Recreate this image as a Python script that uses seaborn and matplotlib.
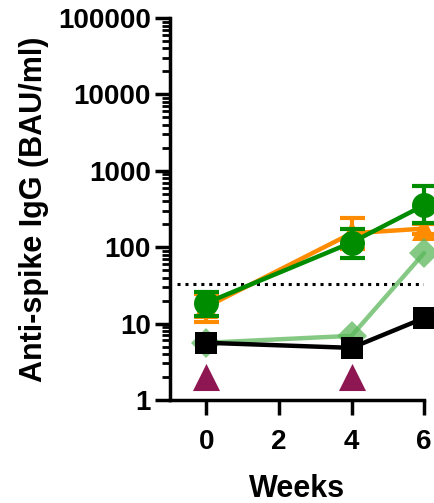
import matplotlib
matplotlib.use("Agg")
from matplotlib import pyplot as plt
import seaborn as sns

weeks = [0, 4, 6]
orange_mean = [16.5, 152, 175]
orange_low = [10.5, 95, 150]
orange_high = [24, 240, 200]
green_mean = [18.6, 115, 355]
green_low = [12.6, 72, 208]
green_high = [26, 173, 640]
light_mean = [5.6, 6.9, 84]
black_mean = [5.6, 4.8, 11.8]
arrow_weeks = [0, 4]
arrow_vals = [2.0, 2.0]
threshold = 33

sns.set_style("ticks")
plt.rcParams["font.family"] = ["Liberation Sans", "DejaVu Sans"]
plt.rcParams["font.weight"] = "bold"
for k in ["text.color", "axes.labelcolor", "xtick.color", "ytick.color", "axes.edgecolor"]:
    plt.rcParams[k] = "black"

fig = plt.figure(figsize=(4.35, 5.03), dpi=100)
ax = fig.add_axes([0.391, 0.205, 0.584, 0.759])

# threshold
ax.plot([-0.8, 6.0], [threshold, threshold], color="black", linestyle=(0, (1, 1.6)), linewidth=2.2, zorder=1)

def err(mean, low, high):
    return [[m - l for m, l in zip(mean, low)], [h - m for m, h in zip(mean, high)]]

# orange series
ax.errorbar(weeks, orange_mean, yerr=err(orange_mean, orange_low, orange_high), fmt="none",
            ecolor="#ff8c00", elinewidth=3, capsize=9, capthick=3, clip_on=False, zorder=2)
sns.lineplot(x=weeks, y=orange_mean, color="#ff8c00", marker="^", markersize=17, linewidth=3.2,
             markeredgewidth=0, ax=ax, clip_on=False, zorder=2)

# green series
ax.errorbar(weeks, green_mean, yerr=err(green_mean, green_low, green_high), fmt="none",
            ecolor="#008c00", elinewidth=3, capsize=9, capthick=3, clip_on=False, zorder=3)
sns.lineplot(x=weeks, y=green_mean, color="#008c00", marker="o", markersize=18, linewidth=3.2,
             markeredgewidth=0, ax=ax, clip_on=False, zorder=3)

# light green series
sns.lineplot(x=weeks, y=light_mean, color="#5cb85c", alpha=0.75, marker="D", markersize=15, linewidth=3.2,
             markeredgewidth=0, ax=ax, clip_on=False, zorder=4)

# black series
sns.lineplot(x=weeks, y=black_mean, color="black", marker="s", markersize=16, linewidth=3.2,
             markeredgewidth=0, ax=ax, clip_on=False, zorder=5)

# arrows
sns.scatterplot(x=arrow_weeks, y=arrow_vals, color="#8e1652", marker="^", s=380, linewidth=0,
                ax=ax, clip_on=False, zorder=6)

ax.set_yscale("log")
ax.set_ylim(1, 100000)
ax.set_xlim(-1, 6)
ax.set_xticks([0, 2, 4, 6])
ax.set_yticks([1, 10, 100, 1000, 10000, 100000])
ax.set_yticklabels(["1", "10", "100", "1000", "10000", "100000"])
ax.tick_params(axis="both", which="major", length=11, width=2.5, labelsize=20, pad=3, direction="out")
ax.tick_params(axis="y", which="minor", length=6, width=2, direction="out")
ax.tick_params(axis="x", pad=10)
for lab in ax.get_xticklabels() + ax.get_yticklabels():
    lab.set_fontweight("bold")
ax.spines["top"].set_visible(False)
ax.spines["right"].set_visible(False)
ax.spines["left"].set_linewidth(2.5)
ax.spines["bottom"].set_linewidth(2.5)
ax.set_xlabel("Weeks", fontsize=22, fontweight="bold", labelpad=14)
ax.set_ylabel("Anti-spike IgG (BAU/ml)", fontsize=22, fontweight="bold", labelpad=6)

fig.savefig("out.png", dpi=100)
